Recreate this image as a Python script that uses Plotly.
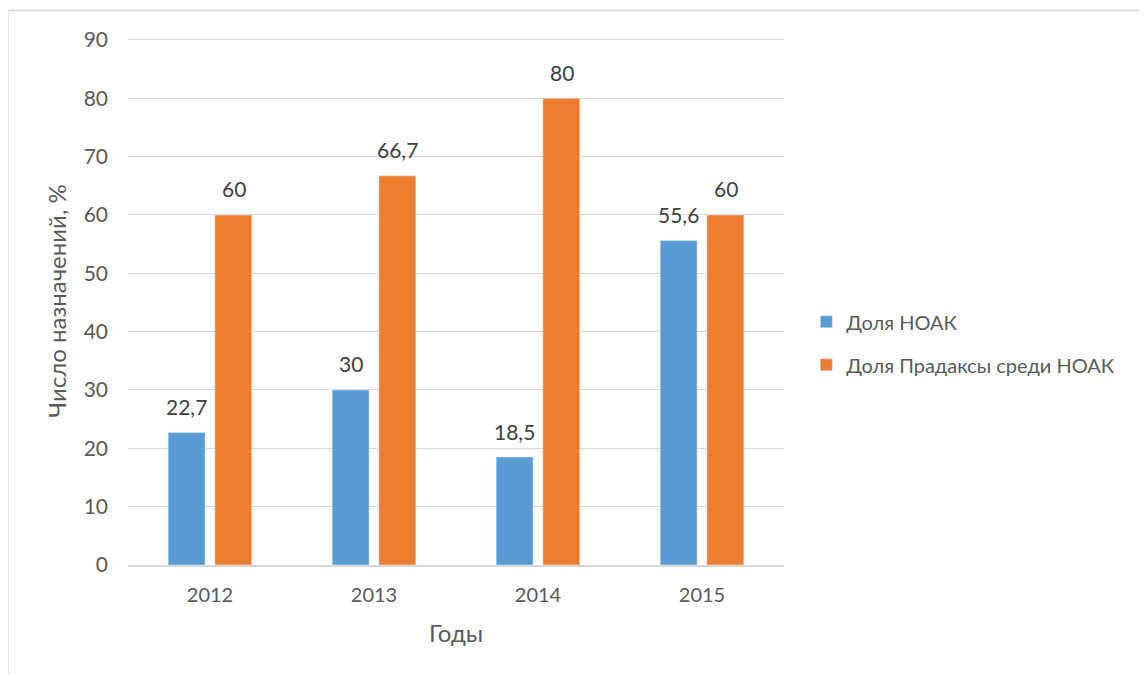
import plotly.graph_objects as go

years = ["2012", "2013", "2014", "2015"]
noak = [22.7, 30, 18.5, 55.6]
pradaxa = [60, 66.7, 80, 60]
series_names = ["Доля НОАК", "Доля Прадаксы среди НОАК"]
y_ticks = [0, 10, 20, 30, 40, 50, 60, 70, 80, 90]

def fmt(v):
    return ("%g" % v).replace(".", ",")

FONT = "Lato, Carlito, Calibri, sans-serif"
GRAY = "#595959"
DARK = "#404040"
BLUE = "#5B9BD5"
ORANGE = "#ED7D31"

fig = go.Figure()
fig.add_trace(go.Bar(x=years, y=noak, name=series_names[0], marker_color=BLUE,
                     legendgroup="a"))
fig.add_trace(go.Bar(x=years, y=pradaxa, name=series_names[1], marker_color=ORANGE,
                     legendgroup="b"))

annotations = []
for vals, shift in ((noak, -23.5), (pradaxa, 23.5)):
    for i, v in enumerate(vals):
        annotations.append(dict(x=i, y=v, xref="x", yref="y", text=fmt(v), showarrow=False,
                                xshift=shift, yshift=26, yanchor="middle", xanchor="center",
                                font=dict(size=21, color=DARK, family=FONT)))

fig.update_layout(
    width=1147, height=675,
    margin=dict(l=120, r=371, t=29, b=118),
    paper_bgcolor="white", plot_bgcolor="white",
    barmode="group", bargap=0.43, bargroupgap=0.21,
    font=dict(family=FONT, color=GRAY, size=20),
    showlegend=True,
    legend=dict(x=1.034, xanchor="left", y=0.42, yanchor="middle",
                font=dict(size=20, color=GRAY, family=FONT),
                tracegroupgap=14, itemwidth=30, traceorder="grouped"),
    annotations=annotations,
    shapes=[
        dict(type="line", xref="paper", yref="paper", x0=-0.183, x1=1.7, y0=1.05, y1=1.05,
             line=dict(color="#D9D9D9", width=1.5)),
        dict(type="line", xref="paper", yref="paper", x0=-0.183, x1=-0.183, y0=1.05, y1=-0.3,
             line=dict(color="#D9D9D9", width=1.5)),
    ],
)
fig.update_yaxes(range=[0, 90.5], tickvals=y_ticks, showgrid=True, gridcolor="#D9D9D9",
                 gridwidth=1, zeroline=False, showline=False,
                 tickfont=dict(size=21, color=GRAY, family=FONT), ticklabelstandoff=19,
                 title=dict(text="Число назначений, %", font=dict(size=24, color=GRAY, family=FONT),
                            standoff=10))
fig.update_xaxes(type="category", range=[-0.5, len(years) - 0.5], showline=True,
                 linecolor="#D9D9D9", linewidth=1.5, showgrid=False,
                 tickfont=dict(size=20, color=GRAY, family=FONT), ticklabelstandoff=11,
                 title=dict(text="Годы", font=dict(size=24, color=GRAY, family=FONT), standoff=20))

fig.write_html("out.html")
